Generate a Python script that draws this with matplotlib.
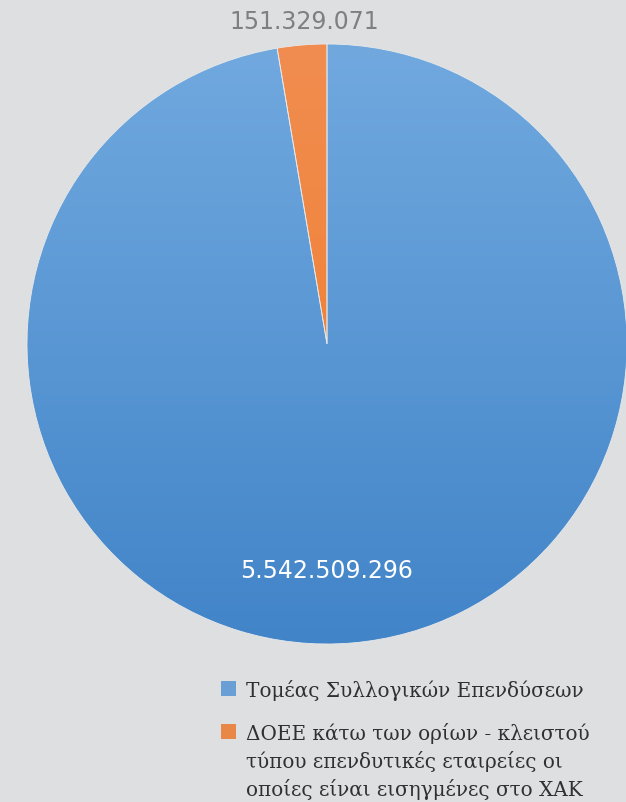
import numpy as np
import matplotlib.pyplot as plt
from matplotlib.colors import LinearSegmentedColormap
from matplotlib.patches import Rectangle

# data
categories = ["Τομέας Συλλογικών Επενδύσεων",
              "ΔΟΕΕ κάτω των ορίων - κλειστού\nτύπου επενδυτικές εταιρείες οι\nοποίες είναι εισηγμένες στο ΧΑΚ"]
values = [5542509296, 151329071]
value_labels = ["5.542.509.296", "151.329.071"]

bg = "#dedfe1"
grad_colors = [("#4184c8", "#71a9df"), ("#f07a26", "#f18d50")]
legend_colors = ["#6a9fd6", "#e98846"]

W, H = 626, 803
fig = plt.figure(figsize=(W / 100, H / 100), dpi=100, facecolor=bg)

cx, cy, r = 327, 345, 300
ax = fig.add_axes([(cx - r) / W, 1 - (cy + r) / H, 2 * r / W, 2 * r / H])
ax.set_facecolor(bg)
ax.axis("off")

wedges, _ = ax.pie(values, startangle=90, counterclock=False,
                   colors=[c[0] for c in grad_colors],
                   wedgeprops=dict(edgecolor="#e6e8ea", linewidth=0.6))

# vertical gradient fill on each slice
grad = np.linspace(0, 1, 256).reshape(-1, 1)
for w, (lo, hi) in zip(wedges, grad_colors):
    cmap = LinearSegmentedColormap.from_list("g", [lo, hi])
    im = ax.imshow(grad, cmap=cmap, extent=[-1, 1, -1, 1], origin="lower",
                   aspect="auto", zorder=w.get_zorder() + 0.1)
    im.set_clip_path(w)
    w.set_facecolor("none")
    w.set_zorder(w.get_zorder() + 0.2)

ax.set_xlim(-1, 1)
ax.set_ylim(-1, 1)
ax.set_aspect("equal")

# data labels
ax.text(0, -0.755, value_labels[0], ha="center", va="center",
        fontsize=17, color="white", family="DejaVu Sans")
ax.text(-0.077, 1.077, value_labels[1], ha="center", va="center",
        fontsize=17, color="#7f7f7f", family="DejaVu Sans")

# legend, drawn by hand so the marker sits on the first line
legend_tops = [682, 725]
for label, col, top in zip(categories, legend_colors, legend_tops):
    fig.patches.append(Rectangle((221 / W, 1 - (top + 15) / H), 15 / W, 15 / H,
                                 transform=fig.transFigure, facecolor=col,
                                 edgecolor="none"))
    fig.text(246 / W, 1 - (top - 2) / H, label, ha="left", va="top",
             family="DejaVu Serif", fontsize=14.4, color="#303030",
             linespacing=1.4)

fig.savefig("out.png", dpi=100, facecolor=bg)
